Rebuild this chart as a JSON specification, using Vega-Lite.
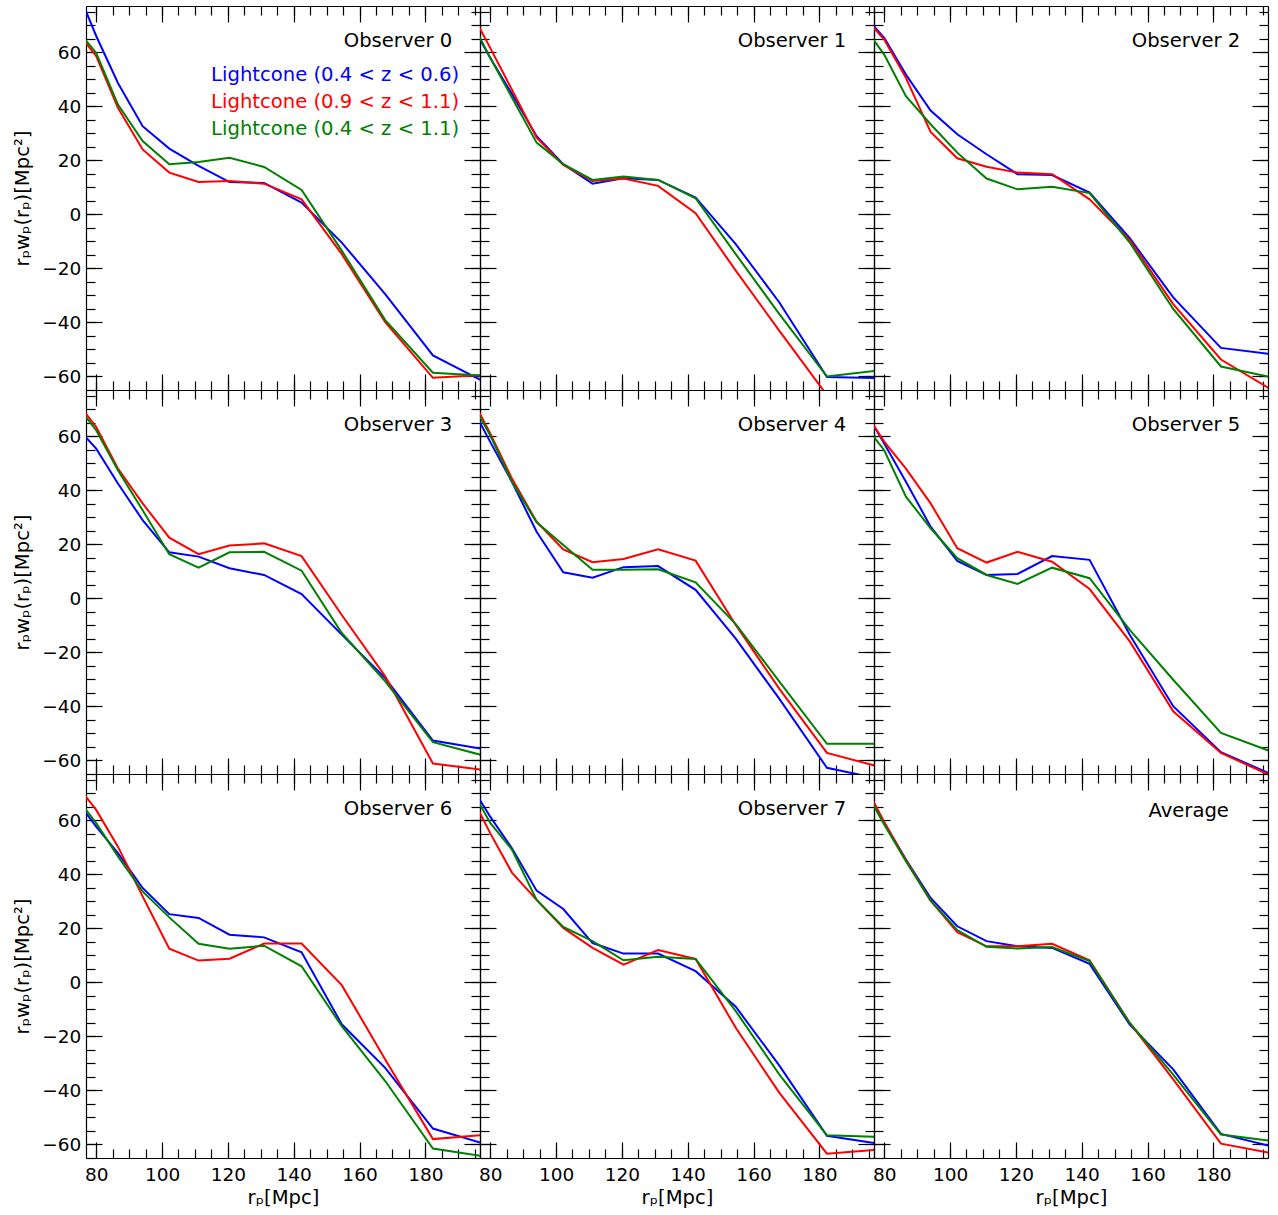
{
"$schema":"https://vega.github.io/schema/vega-lite/v6.json",
"padding":{"left":12,"top":5,"right":5,"bottom":5},
"background":"white",
"config":{"view":{"stroke":null},"axis":{"grid":false,"tickColor":"black","tickWidth":1.2,"domainColor":"black","domainWidth":1.2,"labelFont":"DejaVu Sans","labelFontSize":18.5,"labelColor":"black","titleFont":"DejaVu Sans","titleFontSize":19.6,"titleFontWeight":"normal","titleColor":"black","labelOverlap":false,"labelFlush":false,"labelBound":false}},
"data":{"values":[
{"p":0,"r":73.7,"b":84.5,"rd":68.4,"g":69.0},
{"p":0,"r":80,"b":66.0,"rd":58.5,"g":59.7},
{"p":0,"r":86.6,"b":48.6,"rd":39.4,"g":40.6},
{"p":0,"r":94.1,"b":32.6,"rd":24.0,"g":27.1},
{"p":0,"r":102.2,"b":24.3,"rd":15.4,"g":18.5},
{"p":0,"r":111.1,"b":17.9,"rd":11.9,"g":19.3},
{"p":0,"r":120.5,"b":11.9,"rd":12.3,"g":20.9},
{"p":0,"r":131.0,"b":11.6,"rd":11.3,"g":17.5},
{"p":0,"r":142.4,"b":4.3,"rd":5.5,"g":9.0},
{"p":0,"r":154.6,"b":-10.5,"rd":-14.8,"g":-13.5},
{"p":0,"r":167.8,"b":-29.6,"rd":-40.0,"g":-39.2},
{"p":0,"r":182.3,"b":-52.3,"rd":-60.6,"g":-58.7},
{"p":0,"r":197.8,"b":-62.0,"rd":-59.6,"g":-59.8},
{"p":1,"r":73.7,"b":71.7,"rd":76.0,"g":72.9},
{"p":1,"r":80,"b":57.9,"rd":61.6,"g":57.9},
{"p":1,"r":86.6,"b":44.5,"rd":46.1,"g":43.2},
{"p":1,"r":94.1,"b":28.9,"rd":28.3,"g":26.5},
{"p":1,"r":102.2,"b":18.5,"rd":18.2,"g":18.5},
{"p":1,"r":111.1,"b":11.3,"rd":12.3,"g":12.7},
{"p":1,"r":120.5,"b":13.3,"rd":13.2,"g":14.0},
{"p":1,"r":131.0,"b":12.7,"rd":10.5,"g":12.7},
{"p":1,"r":142.4,"b":6.2,"rd":0.4,"g":5.9},
{"p":1,"r":154.6,"b":-11.1,"rd":-20.9,"g":-14.8},
{"p":1,"r":167.8,"b":-32.6,"rd":-43.1,"g":-36.9},
{"p":1,"r":182.3,"b":-60.3,"rd":-67.0,"g":-60.1},
{"p":1,"r":197.8,"b":-60.7,"rd":-70.0,"g":-57.9},
{"p":2,"r":73.7,"b":74.0,"rd":73.4,"g":69.7},
{"p":2,"r":80,"b":65.3,"rd":64.7,"g":59.1},
{"p":2,"r":86.6,"b":51.7,"rd":50.5,"g":43.7},
{"p":2,"r":94.1,"b":38.4,"rd":30.5,"g":33.3},
{"p":2,"r":102.2,"b":29.6,"rd":20.7,"g":22.8},
{"p":2,"r":111.1,"b":22.2,"rd":17.6,"g":13.2},
{"p":2,"r":120.5,"b":14.8,"rd":15.4,"g":9.2},
{"p":2,"r":131.0,"b":14.5,"rd":14.8,"g":10.2},
{"p":2,"r":142.4,"b":8.0,"rd":5.5,"g":7.8},
{"p":2,"r":154.6,"b":-8.9,"rd":-9.6,"g":-10.5},
{"p":2,"r":167.8,"b":-30.8,"rd":-33.3,"g":-35.1},
{"p":2,"r":182.3,"b":-49.5,"rd":-53.8,"g":-56.4},
{"p":2,"r":197.8,"b":-51.9,"rd":-65.1,"g":-60.4},
{"p":3,"r":73.7,"b":63.7,"rd":73.3,"g":72.1},
{"p":3,"r":80,"b":55.4,"rd":63.4,"g":62.2},
{"p":3,"r":86.6,"b":42.5,"rd":48.0,"g":47.4},
{"p":3,"r":94.1,"b":28.9,"rd":35.1,"g":32.6},
{"p":3,"r":102.2,"b":17.0,"rd":22.4,"g":16.3},
{"p":3,"r":111.1,"b":15.4,"rd":16.3,"g":11.3},
{"p":3,"r":120.5,"b":11.1,"rd":19.5,"g":17.0},
{"p":3,"r":131.0,"b":8.6,"rd":20.3,"g":17.2},
{"p":3,"r":142.4,"b":1.5,"rd":15.6,"g":10.2},
{"p":3,"r":154.6,"b":-13.5,"rd":-6.2,"g":-12.9},
{"p":3,"r":167.8,"b":-29.6,"rd":-28.9,"g":-30.8},
{"p":3,"r":182.3,"b":-52.7,"rd":-61.2,"g":-53.3},
{"p":3,"r":197.8,"b":-55.9,"rd":-63.6,"g":-58.3},
{"p":4,"r":73.7,"b":72.3,"rd":75.8,"g":74.1},
{"p":4,"r":80,"b":57.9,"rd":61.0,"g":60.3},
{"p":4,"r":86.6,"b":43.1,"rd":44.3,"g":43.1},
{"p":4,"r":94.1,"b":24.6,"rd":28.3,"g":28.1},
{"p":4,"r":102.2,"b":9.6,"rd":18.1,"g":19.7},
{"p":4,"r":111.1,"b":7.6,"rd":13.3,"g":10.5},
{"p":4,"r":120.5,"b":11.5,"rd":14.5,"g":10.5},
{"p":4,"r":131.0,"b":11.9,"rd":18.1,"g":10.7},
{"p":4,"r":142.4,"b":3.1,"rd":13.9,"g":5.9},
{"p":4,"r":154.6,"b":-15.0,"rd":-9.9,"g":-9.6},
{"p":4,"r":167.8,"b":-37.2,"rd":-33.5,"g":-30.8},
{"p":4,"r":182.3,"b":-62.8,"rd":-57.3,"g":-53.9},
{"p":4,"r":197.8,"b":-66.8,"rd":-62.3,"g":-53.9},
{"p":5,"r":73.7,"b":70.5,"rd":69.7,"g":64.7},
{"p":5,"r":80,"b":57.3,"rd":58.0,"g":54.8},
{"p":5,"r":86.6,"b":43.1,"rd":48.0,"g":37.6},
{"p":5,"r":94.1,"b":26.5,"rd":35.1,"g":25.9},
{"p":5,"r":102.2,"b":13.8,"rd":18.5,"g":14.8},
{"p":5,"r":111.1,"b":8.6,"rd":13.2,"g":8.6},
{"p":5,"r":120.5,"b":9.0,"rd":17.2,"g":5.3},
{"p":5,"r":131.0,"b":15.6,"rd":13.5,"g":11.3},
{"p":5,"r":142.4,"b":14.2,"rd":3.4,"g":7.4},
{"p":5,"r":154.6,"b":-13.5,"rd":-16.0,"g":-11.7},
{"p":5,"r":167.8,"b":-40.0,"rd":-41.9,"g":-30.2},
{"p":5,"r":182.3,"b":-57.0,"rd":-57.3,"g":-49.9},
{"p":5,"r":197.8,"b":-65.3,"rd":-65.9,"g":-56.9},
{"p":6,"r":73.7,"b":67.8,"rd":73.7,"g":68.8},
{"p":6,"r":80,"b":57.6,"rd":63.8,"g":58.9},
{"p":6,"r":86.6,"b":47.8,"rd":50.2,"g":46.6},
{"p":6,"r":94.1,"b":34.9,"rd":31.8,"g":33.6},
{"p":6,"r":102.2,"b":25.2,"rd":12.4,"g":24.0},
{"p":6,"r":111.1,"b":23.8,"rd":8.0,"g":14.2},
{"p":6,"r":120.5,"b":17.6,"rd":8.7,"g":12.4},
{"p":6,"r":131.0,"b":16.6,"rd":14.3,"g":13.5},
{"p":6,"r":142.4,"b":11.1,"rd":14.3,"g":5.9},
{"p":6,"r":154.6,"b":-15.6,"rd":-1.1,"g":-16.3},
{"p":6,"r":167.8,"b":-31.7,"rd":-28.6,"g":-36.6},
{"p":6,"r":182.3,"b":-54.2,"rd":-58.1,"g":-61.6},
{"p":6,"r":197.8,"b":-59.8,"rd":-56.6,"g":-64.5},
{"p":7,"r":73.7,"b":73.7,"rd":70.2,"g":72.8},
{"p":7,"r":80,"b":61.3,"rd":55.2,"g":59.0},
{"p":7,"r":86.6,"b":49.6,"rd":40.6,"g":49.1},
{"p":7,"r":94.1,"b":33.9,"rd":30.5,"g":30.5},
{"p":7,"r":102.2,"b":27.1,"rd":20.1,"g":20.5},
{"p":7,"r":111.1,"b":14.5,"rd":12.7,"g":15.2},
{"p":7,"r":120.5,"b":10.6,"rd":6.5,"g":8.1},
{"p":7,"r":131.0,"b":10.6,"rd":11.9,"g":9.4},
{"p":7,"r":142.4,"b":4.1,"rd":8.6,"g":8.6},
{"p":7,"r":154.6,"b":-9.1,"rd":-16.9,"g":-10.7},
{"p":7,"r":167.8,"b":-30.8,"rd":-40.9,"g":-34.1},
{"p":7,"r":182.3,"b":-56.9,"rd":-63.5,"g":-56.7},
{"p":7,"r":197.8,"b":-59.8,"rd":-62.0,"g":-57.3},
{"p":8,"r":73.7,"b":74.0,"rd":73.7,"g":72.2},
{"p":8,"r":80,"b":59.0,"rd":59.3,"g":58.4},
{"p":8,"r":86.6,"b":45.4,"rd":45.2,"g":44.8},
{"p":8,"r":94.1,"b":31.2,"rd":30.2,"g":30.2},
{"p":8,"r":102.2,"b":20.7,"rd":18.5,"g":19.3},
{"p":8,"r":111.1,"b":15.2,"rd":13.3,"g":13.1},
{"p":8,"r":120.5,"b":13.3,"rd":13.3,"g":12.5},
{"p":8,"r":131.0,"b":12.7,"rd":14.2,"g":13.0},
{"p":8,"r":142.4,"b":6.8,"rd":8.1,"g":7.8},
{"p":8,"r":154.6,"b":-15.7,"rd":-15.1,"g":-15.1},
{"p":8,"r":167.8,"b":-32.3,"rd":-36.0,"g":-34.2},
{"p":8,"r":182.3,"b":-56.2,"rd":-59.8,"g":-56.4},
{"p":8,"r":197.8,"b":-60.8,"rd":-63.3,"g":-58.8}
]},
"columns":3,
"spacing":0,
"bounds":"flush",
"concat":[
{"width":394,"height":384,"resolve":{"axis":{"x":"independent","y":"independent"}},"layer":[
 {"transform":[{"filter":"datum.p == 0"},{"fold":["b","rd","g"],"as":["k","v"]}],"mark":{"type":"line","clip":true,"strokeWidth":2},
  "encoding":{"x":{"field":"r","type":"quantitative","scale":{"domain":[76.9,196.6],"nice":false,"zero":false},"axis":{"orient":"bottom","values":[80,100,120,140,160,180],"tickSize":-16,"labels":false,"title":null}},
   "y":{"field":"v","type":"quantitative","scale":{"domain":[-65.1,77.1],"nice":false,"zero":false},"axis":{"orient":"left","values":[-60,-40,-20,0,20,40,60],"tickSize":-16,"labelPadding":21.3,"labelOffset":0,"title":"rₚwₚ(rₚ)[Mpc²]","titlePadding":9}},
   "color":{"field":"k","type":"nominal","scale":{"domain":["b","rd","g"],"range":["#0000ff","#ff0000","#008000"]},"legend":null}}},
 {"data":{"values":[{"t":"Observer 0"}]},"mark":{"type":"text","align":"center","baseline":"middle","fontSize":19.6,"font":"DejaVu Sans","color":"black"},
  "encoding":{"text":{"field":"t"},"x":{"datum":171.7,"type":"quantitative","scale":{"domain":[76.9,196.6],"nice":false,"zero":false},"axis":{"orient":"bottom","values":[80,85,90,95,100,105,110,115,120,125,130,135,140,145,150,155,160,165,170,175,180,185,190,195],"tickSize":-9,"labels":false,"domain":false,"title":null}},
   "y":{"datum":64,"type":"quantitative","scale":{"domain":[-65.1,77.1],"nice":false,"zero":false},"axis":{"orient":"left","values":[-65,-60,-55,-50,-45,-40,-35,-30,-25,-20,-15,-10,-5,0,5,10,15,20,25,30,35,40,45,50,55,60,65,70,75],"tickSize":-9,"labels":false,"domain":false,"title":null}}}},
 {"data":{"values":[{"t":""}]},"mark":{"type":"text"},
  "encoding":{"text":{"field":"t"},"x":{"datum":150,"type":"quantitative","scale":{"domain":[76.9,196.6],"nice":false,"zero":false},"axis":{"orient":"top","values":[80,100,120,140,160,180],"tickSize":-16,"labels":false,"title":null}},
   "y":{"datum":0,"type":"quantitative","scale":{"domain":[-65.1,77.1],"nice":false,"zero":false},"axis":{"orient":"right","values":[-60,-40,-20,0,20,40,60],"tickSize":-16,"labels":false,"title":null}}}},
 {"data":{"values":[{"t":""}]},"mark":{"type":"text"},
  "encoding":{"text":{"field":"t"},"x":{"datum":150,"type":"quantitative","scale":{"domain":[76.9,196.6],"nice":false,"zero":false},"axis":{"orient":"top","values":[80,85,90,95,100,105,110,115,120,125,130,135,140,145,150,155,160,165,170,175,180,185,190,195],"tickSize":-9,"labels":false,"domain":false,"title":null}},
   "y":{"datum":0,"type":"quantitative","scale":{"domain":[-65.1,77.1],"nice":false,"zero":false},"axis":{"orient":"right","values":[-65,-60,-55,-50,-45,-40,-35,-30,-25,-20,-15,-10,-5,0,5,10,15,20,25,30,35,40,45,50,55,60,65,70,75],"tickSize":-9,"labels":false,"domain":false,"title":null}}}},
 {"data":{"values":[{"t":"Lightcone (0.4 < z < 0.6)"}]},"mark":{"type":"text","align":"left","baseline":"middle","fontSize":19.6,"font":"DejaVu Sans","color":"#0000ff"},
  "encoding":{"text":{"field":"t"},"x":{"datum":114.9,"type":"quantitative","scale":{"domain":[76.9,196.6],"nice":false,"zero":false},"axis":null},"y":{"datum":51.5,"type":"quantitative","scale":{"domain":[-65.1,77.1],"nice":false,"zero":false},"axis":null}}},
 {"data":{"values":[{"t":"Lightcone (0.9 < z < 1.1)"}]},"mark":{"type":"text","align":"left","baseline":"middle","fontSize":19.6,"font":"DejaVu Sans","color":"#ff0000"},
  "encoding":{"text":{"field":"t"},"x":{"datum":114.9,"type":"quantitative","scale":{"domain":[76.9,196.6],"nice":false,"zero":false},"axis":null},"y":{"datum":41.5,"type":"quantitative","scale":{"domain":[-65.1,77.1],"nice":false,"zero":false},"axis":null}}},
 {"data":{"values":[{"t":"Lightcone (0.4 < z < 1.1)"}]},"mark":{"type":"text","align":"left","baseline":"middle","fontSize":19.6,"font":"DejaVu Sans","color":"#008000"},
  "encoding":{"text":{"field":"t"},"x":{"datum":114.9,"type":"quantitative","scale":{"domain":[76.9,196.6],"nice":false,"zero":false},"axis":null},"y":{"datum":31.7,"type":"quantitative","scale":{"domain":[-65.1,77.1],"nice":false,"zero":false},"axis":null}}}
]},
{"width":394,"height":384,"resolve":{"axis":{"x":"independent","y":"independent"}},"layer":[
 {"transform":[{"filter":"datum.p == 1"},{"fold":["b","rd","g"],"as":["k","v"]}],"mark":{"type":"line","clip":true,"strokeWidth":2},
  "encoding":{"x":{"field":"r","type":"quantitative","scale":{"domain":[76.9,196.6],"nice":false,"zero":false},"axis":{"orient":"bottom","values":[80,100,120,140,160,180],"tickSize":-16,"labels":false,"title":null}},
   "y":{"field":"v","type":"quantitative","scale":{"domain":[-65.1,77.1],"nice":false,"zero":false},"axis":{"orient":"left","values":[-60,-40,-20,0,20,40,60],"tickSize":-16,"labels":false,"title":null}},
   "color":{"field":"k","type":"nominal","scale":{"domain":["b","rd","g"],"range":["#0000ff","#ff0000","#008000"]},"legend":null}}},
 {"data":{"values":[{"t":"Observer 1"}]},"mark":{"type":"text","align":"center","baseline":"middle","fontSize":19.6,"font":"DejaVu Sans","color":"black"},
  "encoding":{"text":{"field":"t"},"x":{"datum":171.7,"type":"quantitative","scale":{"domain":[76.9,196.6],"nice":false,"zero":false},"axis":{"orient":"bottom","values":[80,85,90,95,100,105,110,115,120,125,130,135,140,145,150,155,160,165,170,175,180,185,190,195],"tickSize":-9,"labels":false,"domain":false,"title":null}},
   "y":{"datum":64,"type":"quantitative","scale":{"domain":[-65.1,77.1],"nice":false,"zero":false},"axis":{"orient":"left","values":[-65,-60,-55,-50,-45,-40,-35,-30,-25,-20,-15,-10,-5,0,5,10,15,20,25,30,35,40,45,50,55,60,65,70,75],"tickSize":-9,"labels":false,"domain":false,"title":null}}}},
 {"data":{"values":[{"t":""}]},"mark":{"type":"text"},
  "encoding":{"text":{"field":"t"},"x":{"datum":150,"type":"quantitative","scale":{"domain":[76.9,196.6],"nice":false,"zero":false},"axis":{"orient":"top","values":[80,100,120,140,160,180],"tickSize":-16,"labels":false,"title":null}},
   "y":{"datum":0,"type":"quantitative","scale":{"domain":[-65.1,77.1],"nice":false,"zero":false},"axis":{"orient":"right","values":[-60,-40,-20,0,20,40,60],"tickSize":-16,"labels":false,"title":null}}}},
 {"data":{"values":[{"t":""}]},"mark":{"type":"text"},
  "encoding":{"text":{"field":"t"},"x":{"datum":150,"type":"quantitative","scale":{"domain":[76.9,196.6],"nice":false,"zero":false},"axis":{"orient":"top","values":[80,85,90,95,100,105,110,115,120,125,130,135,140,145,150,155,160,165,170,175,180,185,190,195],"tickSize":-9,"labels":false,"domain":false,"title":null}},
   "y":{"datum":0,"type":"quantitative","scale":{"domain":[-65.1,77.1],"nice":false,"zero":false},"axis":{"orient":"right","values":[-65,-60,-55,-50,-45,-40,-35,-30,-25,-20,-15,-10,-5,0,5,10,15,20,25,30,35,40,45,50,55,60,65,70,75],"tickSize":-9,"labels":false,"domain":false,"title":null}}}}
]},
{"width":394,"height":384,"resolve":{"axis":{"x":"independent","y":"independent"}},"layer":[
 {"transform":[{"filter":"datum.p == 2"},{"fold":["b","rd","g"],"as":["k","v"]}],"mark":{"type":"line","clip":true,"strokeWidth":2},
  "encoding":{"x":{"field":"r","type":"quantitative","scale":{"domain":[76.9,196.6],"nice":false,"zero":false},"axis":{"orient":"bottom","values":[80,100,120,140,160,180],"tickSize":-16,"labels":false,"title":null}},
   "y":{"field":"v","type":"quantitative","scale":{"domain":[-65.1,77.1],"nice":false,"zero":false},"axis":{"orient":"left","values":[-60,-40,-20,0,20,40,60],"tickSize":-16,"labels":false,"title":null}},
   "color":{"field":"k","type":"nominal","scale":{"domain":["b","rd","g"],"range":["#0000ff","#ff0000","#008000"]},"legend":null}}},
 {"data":{"values":[{"t":"Observer 2"}]},"mark":{"type":"text","align":"center","baseline":"middle","fontSize":19.6,"font":"DejaVu Sans","color":"black"},
  "encoding":{"text":{"field":"t"},"x":{"datum":171.7,"type":"quantitative","scale":{"domain":[76.9,196.6],"nice":false,"zero":false},"axis":{"orient":"bottom","values":[80,85,90,95,100,105,110,115,120,125,130,135,140,145,150,155,160,165,170,175,180,185,190,195],"tickSize":-9,"labels":false,"domain":false,"title":null}},
   "y":{"datum":64,"type":"quantitative","scale":{"domain":[-65.1,77.1],"nice":false,"zero":false},"axis":{"orient":"left","values":[-65,-60,-55,-50,-45,-40,-35,-30,-25,-20,-15,-10,-5,0,5,10,15,20,25,30,35,40,45,50,55,60,65,70,75],"tickSize":-9,"labels":false,"domain":false,"title":null}}}},
 {"data":{"values":[{"t":""}]},"mark":{"type":"text"},
  "encoding":{"text":{"field":"t"},"x":{"datum":150,"type":"quantitative","scale":{"domain":[76.9,196.6],"nice":false,"zero":false},"axis":{"orient":"top","values":[80,100,120,140,160,180],"tickSize":-16,"labels":false,"title":null}},
   "y":{"datum":0,"type":"quantitative","scale":{"domain":[-65.1,77.1],"nice":false,"zero":false},"axis":{"orient":"right","values":[-60,-40,-20,0,20,40,60],"tickSize":-16,"labels":false,"title":null}}}},
 {"data":{"values":[{"t":""}]},"mark":{"type":"text"},
  "encoding":{"text":{"field":"t"},"x":{"datum":150,"type":"quantitative","scale":{"domain":[76.9,196.6],"nice":false,"zero":false},"axis":{"orient":"top","values":[80,85,90,95,100,105,110,115,120,125,130,135,140,145,150,155,160,165,170,175,180,185,190,195],"tickSize":-9,"labels":false,"domain":false,"title":null}},
   "y":{"datum":0,"type":"quantitative","scale":{"domain":[-65.1,77.1],"nice":false,"zero":false},"axis":{"orient":"right","values":[-65,-60,-55,-50,-45,-40,-35,-30,-25,-20,-15,-10,-5,0,5,10,15,20,25,30,35,40,45,50,55,60,65,70,75],"tickSize":-9,"labels":false,"domain":false,"title":null}}}}
]},
{"width":394,"height":384,"resolve":{"axis":{"x":"independent","y":"independent"}},"layer":[
 {"transform":[{"filter":"datum.p == 3"},{"fold":["b","rd","g"],"as":["k","v"]}],"mark":{"type":"line","clip":true,"strokeWidth":2},
  "encoding":{"x":{"field":"r","type":"quantitative","scale":{"domain":[76.9,196.6],"nice":false,"zero":false},"axis":{"orient":"bottom","values":[80,100,120,140,160,180],"tickSize":-16,"labels":false,"title":null}},
   "y":{"field":"v","type":"quantitative","scale":{"domain":[-65.1,77.1],"nice":false,"zero":false},"axis":{"orient":"left","values":[-60,-40,-20,0,20,40,60],"tickSize":-16,"labelPadding":21.3,"labelOffset":0,"title":"rₚwₚ(rₚ)[Mpc²]","titlePadding":9}},
   "color":{"field":"k","type":"nominal","scale":{"domain":["b","rd","g"],"range":["#0000ff","#ff0000","#008000"]},"legend":null}}},
 {"data":{"values":[{"t":"Observer 3"}]},"mark":{"type":"text","align":"center","baseline":"middle","fontSize":19.6,"font":"DejaVu Sans","color":"black"},
  "encoding":{"text":{"field":"t"},"x":{"datum":171.7,"type":"quantitative","scale":{"domain":[76.9,196.6],"nice":false,"zero":false},"axis":{"orient":"bottom","values":[80,85,90,95,100,105,110,115,120,125,130,135,140,145,150,155,160,165,170,175,180,185,190,195],"tickSize":-9,"labels":false,"domain":false,"title":null}},
   "y":{"datum":64,"type":"quantitative","scale":{"domain":[-65.1,77.1],"nice":false,"zero":false},"axis":{"orient":"left","values":[-65,-60,-55,-50,-45,-40,-35,-30,-25,-20,-15,-10,-5,0,5,10,15,20,25,30,35,40,45,50,55,60,65,70,75],"tickSize":-9,"labels":false,"domain":false,"title":null}}}},
 {"data":{"values":[{"t":""}]},"mark":{"type":"text"},
  "encoding":{"text":{"field":"t"},"x":{"datum":150,"type":"quantitative","scale":{"domain":[76.9,196.6],"nice":false,"zero":false},"axis":{"orient":"top","values":[80,100,120,140,160,180],"tickSize":-16,"labels":false,"title":null}},
   "y":{"datum":0,"type":"quantitative","scale":{"domain":[-65.1,77.1],"nice":false,"zero":false},"axis":{"orient":"right","values":[-60,-40,-20,0,20,40,60],"tickSize":-16,"labels":false,"title":null}}}},
 {"data":{"values":[{"t":""}]},"mark":{"type":"text"},
  "encoding":{"text":{"field":"t"},"x":{"datum":150,"type":"quantitative","scale":{"domain":[76.9,196.6],"nice":false,"zero":false},"axis":{"orient":"top","values":[80,85,90,95,100,105,110,115,120,125,130,135,140,145,150,155,160,165,170,175,180,185,190,195],"tickSize":-9,"labels":false,"domain":false,"title":null}},
   "y":{"datum":0,"type":"quantitative","scale":{"domain":[-65.1,77.1],"nice":false,"zero":false},"axis":{"orient":"right","values":[-65,-60,-55,-50,-45,-40,-35,-30,-25,-20,-15,-10,-5,0,5,10,15,20,25,30,35,40,45,50,55,60,65,70,75],"tickSize":-9,"labels":false,"domain":false,"title":null}}}}
]},
{"width":394,"height":384,"resolve":{"axis":{"x":"independent","y":"independent"}},"layer":[
 {"transform":[{"filter":"datum.p == 4"},{"fold":["b","rd","g"],"as":["k","v"]}],"mark":{"type":"line","clip":true,"strokeWidth":2},
  "encoding":{"x":{"field":"r","type":"quantitative","scale":{"domain":[76.9,196.6],"nice":false,"zero":false},"axis":{"orient":"bottom","values":[80,100,120,140,160,180],"tickSize":-16,"labels":false,"title":null}},
   "y":{"field":"v","type":"quantitative","scale":{"domain":[-65.1,77.1],"nice":false,"zero":false},"axis":{"orient":"left","values":[-60,-40,-20,0,20,40,60],"tickSize":-16,"labels":false,"title":null}},
   "color":{"field":"k","type":"nominal","scale":{"domain":["b","rd","g"],"range":["#0000ff","#ff0000","#008000"]},"legend":null}}},
 {"data":{"values":[{"t":"Observer 4"}]},"mark":{"type":"text","align":"center","baseline":"middle","fontSize":19.6,"font":"DejaVu Sans","color":"black"},
  "encoding":{"text":{"field":"t"},"x":{"datum":171.7,"type":"quantitative","scale":{"domain":[76.9,196.6],"nice":false,"zero":false},"axis":{"orient":"bottom","values":[80,85,90,95,100,105,110,115,120,125,130,135,140,145,150,155,160,165,170,175,180,185,190,195],"tickSize":-9,"labels":false,"domain":false,"title":null}},
   "y":{"datum":64,"type":"quantitative","scale":{"domain":[-65.1,77.1],"nice":false,"zero":false},"axis":{"orient":"left","values":[-65,-60,-55,-50,-45,-40,-35,-30,-25,-20,-15,-10,-5,0,5,10,15,20,25,30,35,40,45,50,55,60,65,70,75],"tickSize":-9,"labels":false,"domain":false,"title":null}}}},
 {"data":{"values":[{"t":""}]},"mark":{"type":"text"},
  "encoding":{"text":{"field":"t"},"x":{"datum":150,"type":"quantitative","scale":{"domain":[76.9,196.6],"nice":false,"zero":false},"axis":{"orient":"top","values":[80,100,120,140,160,180],"tickSize":-16,"labels":false,"title":null}},
   "y":{"datum":0,"type":"quantitative","scale":{"domain":[-65.1,77.1],"nice":false,"zero":false},"axis":{"orient":"right","values":[-60,-40,-20,0,20,40,60],"tickSize":-16,"labels":false,"title":null}}}},
 {"data":{"values":[{"t":""}]},"mark":{"type":"text"},
  "encoding":{"text":{"field":"t"},"x":{"datum":150,"type":"quantitative","scale":{"domain":[76.9,196.6],"nice":false,"zero":false},"axis":{"orient":"top","values":[80,85,90,95,100,105,110,115,120,125,130,135,140,145,150,155,160,165,170,175,180,185,190,195],"tickSize":-9,"labels":false,"domain":false,"title":null}},
   "y":{"datum":0,"type":"quantitative","scale":{"domain":[-65.1,77.1],"nice":false,"zero":false},"axis":{"orient":"right","values":[-65,-60,-55,-50,-45,-40,-35,-30,-25,-20,-15,-10,-5,0,5,10,15,20,25,30,35,40,45,50,55,60,65,70,75],"tickSize":-9,"labels":false,"domain":false,"title":null}}}}
]},
{"width":394,"height":384,"resolve":{"axis":{"x":"independent","y":"independent"}},"layer":[
 {"transform":[{"filter":"datum.p == 5"},{"fold":["b","rd","g"],"as":["k","v"]}],"mark":{"type":"line","clip":true,"strokeWidth":2},
  "encoding":{"x":{"field":"r","type":"quantitative","scale":{"domain":[76.9,196.6],"nice":false,"zero":false},"axis":{"orient":"bottom","values":[80,100,120,140,160,180],"tickSize":-16,"labels":false,"title":null}},
   "y":{"field":"v","type":"quantitative","scale":{"domain":[-65.1,77.1],"nice":false,"zero":false},"axis":{"orient":"left","values":[-60,-40,-20,0,20,40,60],"tickSize":-16,"labels":false,"title":null}},
   "color":{"field":"k","type":"nominal","scale":{"domain":["b","rd","g"],"range":["#0000ff","#ff0000","#008000"]},"legend":null}}},
 {"data":{"values":[{"t":"Observer 5"}]},"mark":{"type":"text","align":"center","baseline":"middle","fontSize":19.6,"font":"DejaVu Sans","color":"black"},
  "encoding":{"text":{"field":"t"},"x":{"datum":171.7,"type":"quantitative","scale":{"domain":[76.9,196.6],"nice":false,"zero":false},"axis":{"orient":"bottom","values":[80,85,90,95,100,105,110,115,120,125,130,135,140,145,150,155,160,165,170,175,180,185,190,195],"tickSize":-9,"labels":false,"domain":false,"title":null}},
   "y":{"datum":64,"type":"quantitative","scale":{"domain":[-65.1,77.1],"nice":false,"zero":false},"axis":{"orient":"left","values":[-65,-60,-55,-50,-45,-40,-35,-30,-25,-20,-15,-10,-5,0,5,10,15,20,25,30,35,40,45,50,55,60,65,70,75],"tickSize":-9,"labels":false,"domain":false,"title":null}}}},
 {"data":{"values":[{"t":""}]},"mark":{"type":"text"},
  "encoding":{"text":{"field":"t"},"x":{"datum":150,"type":"quantitative","scale":{"domain":[76.9,196.6],"nice":false,"zero":false},"axis":{"orient":"top","values":[80,100,120,140,160,180],"tickSize":-16,"labels":false,"title":null}},
   "y":{"datum":0,"type":"quantitative","scale":{"domain":[-65.1,77.1],"nice":false,"zero":false},"axis":{"orient":"right","values":[-60,-40,-20,0,20,40,60],"tickSize":-16,"labels":false,"title":null}}}},
 {"data":{"values":[{"t":""}]},"mark":{"type":"text"},
  "encoding":{"text":{"field":"t"},"x":{"datum":150,"type":"quantitative","scale":{"domain":[76.9,196.6],"nice":false,"zero":false},"axis":{"orient":"top","values":[80,85,90,95,100,105,110,115,120,125,130,135,140,145,150,155,160,165,170,175,180,185,190,195],"tickSize":-9,"labels":false,"domain":false,"title":null}},
   "y":{"datum":0,"type":"quantitative","scale":{"domain":[-65.1,77.1],"nice":false,"zero":false},"axis":{"orient":"right","values":[-65,-60,-55,-50,-45,-40,-35,-30,-25,-20,-15,-10,-5,0,5,10,15,20,25,30,35,40,45,50,55,60,65,70,75],"tickSize":-9,"labels":false,"domain":false,"title":null}}}}
]},
{"width":394,"height":384,"resolve":{"axis":{"x":"independent","y":"independent"}},"layer":[
 {"transform":[{"filter":"datum.p == 6"},{"fold":["b","rd","g"],"as":["k","v"]}],"mark":{"type":"line","clip":true,"strokeWidth":2},
  "encoding":{"x":{"field":"r","type":"quantitative","scale":{"domain":[76.9,196.6],"nice":false,"zero":false},"axis":{"orient":"bottom","values":[80,100,120,140,160,180],"tickSize":-16,"labelPadding":23.3,"title":"rₚ[Mpc]","titlePadding":5}},
   "y":{"field":"v","type":"quantitative","scale":{"domain":[-65.1,77.1],"nice":false,"zero":false},"axis":{"orient":"left","values":[-60,-40,-20,0,20,40,60],"tickSize":-16,"labelPadding":21.3,"labelOffset":0,"title":"rₚwₚ(rₚ)[Mpc²]","titlePadding":9}},
   "color":{"field":"k","type":"nominal","scale":{"domain":["b","rd","g"],"range":["#0000ff","#ff0000","#008000"]},"legend":null}}},
 {"data":{"values":[{"t":"Observer 6"}]},"mark":{"type":"text","align":"center","baseline":"middle","fontSize":19.6,"font":"DejaVu Sans","color":"black"},
  "encoding":{"text":{"field":"t"},"x":{"datum":171.7,"type":"quantitative","scale":{"domain":[76.9,196.6],"nice":false,"zero":false},"axis":{"orient":"bottom","values":[80,85,90,95,100,105,110,115,120,125,130,135,140,145,150,155,160,165,170,175,180,185,190,195],"tickSize":-9,"labels":false,"domain":false,"title":null}},
   "y":{"datum":64,"type":"quantitative","scale":{"domain":[-65.1,77.1],"nice":false,"zero":false},"axis":{"orient":"left","values":[-65,-60,-55,-50,-45,-40,-35,-30,-25,-20,-15,-10,-5,0,5,10,15,20,25,30,35,40,45,50,55,60,65,70,75],"tickSize":-9,"labels":false,"domain":false,"title":null}}}},
 {"data":{"values":[{"t":""}]},"mark":{"type":"text"},
  "encoding":{"text":{"field":"t"},"x":{"datum":150,"type":"quantitative","scale":{"domain":[76.9,196.6],"nice":false,"zero":false},"axis":{"orient":"top","values":[80,100,120,140,160,180],"tickSize":-16,"labels":false,"title":null}},
   "y":{"datum":0,"type":"quantitative","scale":{"domain":[-65.1,77.1],"nice":false,"zero":false},"axis":{"orient":"right","values":[-60,-40,-20,0,20,40,60],"tickSize":-16,"labels":false,"title":null}}}},
 {"data":{"values":[{"t":""}]},"mark":{"type":"text"},
  "encoding":{"text":{"field":"t"},"x":{"datum":150,"type":"quantitative","scale":{"domain":[76.9,196.6],"nice":false,"zero":false},"axis":{"orient":"top","values":[80,85,90,95,100,105,110,115,120,125,130,135,140,145,150,155,160,165,170,175,180,185,190,195],"tickSize":-9,"labels":false,"domain":false,"title":null}},
   "y":{"datum":0,"type":"quantitative","scale":{"domain":[-65.1,77.1],"nice":false,"zero":false},"axis":{"orient":"right","values":[-65,-60,-55,-50,-45,-40,-35,-30,-25,-20,-15,-10,-5,0,5,10,15,20,25,30,35,40,45,50,55,60,65,70,75],"tickSize":-9,"labels":false,"domain":false,"title":null}}}}
]},
{"width":394,"height":384,"resolve":{"axis":{"x":"independent","y":"independent"}},"layer":[
 {"transform":[{"filter":"datum.p == 7"},{"fold":["b","rd","g"],"as":["k","v"]}],"mark":{"type":"line","clip":true,"strokeWidth":2},
  "encoding":{"x":{"field":"r","type":"quantitative","scale":{"domain":[76.9,196.6],"nice":false,"zero":false},"axis":{"orient":"bottom","values":[80,100,120,140,160,180],"tickSize":-16,"labelPadding":23.3,"title":"rₚ[Mpc]","titlePadding":5}},
   "y":{"field":"v","type":"quantitative","scale":{"domain":[-65.1,77.1],"nice":false,"zero":false},"axis":{"orient":"left","values":[-60,-40,-20,0,20,40,60],"tickSize":-16,"labels":false,"title":null}},
   "color":{"field":"k","type":"nominal","scale":{"domain":["b","rd","g"],"range":["#0000ff","#ff0000","#008000"]},"legend":null}}},
 {"data":{"values":[{"t":"Observer 7"}]},"mark":{"type":"text","align":"center","baseline":"middle","fontSize":19.6,"font":"DejaVu Sans","color":"black"},
  "encoding":{"text":{"field":"t"},"x":{"datum":171.7,"type":"quantitative","scale":{"domain":[76.9,196.6],"nice":false,"zero":false},"axis":{"orient":"bottom","values":[80,85,90,95,100,105,110,115,120,125,130,135,140,145,150,155,160,165,170,175,180,185,190,195],"tickSize":-9,"labels":false,"domain":false,"title":null}},
   "y":{"datum":64,"type":"quantitative","scale":{"domain":[-65.1,77.1],"nice":false,"zero":false},"axis":{"orient":"left","values":[-65,-60,-55,-50,-45,-40,-35,-30,-25,-20,-15,-10,-5,0,5,10,15,20,25,30,35,40,45,50,55,60,65,70,75],"tickSize":-9,"labels":false,"domain":false,"title":null}}}},
 {"data":{"values":[{"t":""}]},"mark":{"type":"text"},
  "encoding":{"text":{"field":"t"},"x":{"datum":150,"type":"quantitative","scale":{"domain":[76.9,196.6],"nice":false,"zero":false},"axis":{"orient":"top","values":[80,100,120,140,160,180],"tickSize":-16,"labels":false,"title":null}},
   "y":{"datum":0,"type":"quantitative","scale":{"domain":[-65.1,77.1],"nice":false,"zero":false},"axis":{"orient":"right","values":[-60,-40,-20,0,20,40,60],"tickSize":-16,"labels":false,"title":null}}}},
 {"data":{"values":[{"t":""}]},"mark":{"type":"text"},
  "encoding":{"text":{"field":"t"},"x":{"datum":150,"type":"quantitative","scale":{"domain":[76.9,196.6],"nice":false,"zero":false},"axis":{"orient":"top","values":[80,85,90,95,100,105,110,115,120,125,130,135,140,145,150,155,160,165,170,175,180,185,190,195],"tickSize":-9,"labels":false,"domain":false,"title":null}},
   "y":{"datum":0,"type":"quantitative","scale":{"domain":[-65.1,77.1],"nice":false,"zero":false},"axis":{"orient":"right","values":[-65,-60,-55,-50,-45,-40,-35,-30,-25,-20,-15,-10,-5,0,5,10,15,20,25,30,35,40,45,50,55,60,65,70,75],"tickSize":-9,"labels":false,"domain":false,"title":null}}}}
]},
{"width":394,"height":384,"resolve":{"axis":{"x":"independent","y":"independent"}},"layer":[
 {"transform":[{"filter":"datum.p == 8"},{"fold":["b","rd","g"],"as":["k","v"]}],"mark":{"type":"line","clip":true,"strokeWidth":2},
  "encoding":{"x":{"field":"r","type":"quantitative","scale":{"domain":[76.9,196.6],"nice":false,"zero":false},"axis":{"orient":"bottom","values":[80,100,120,140,160,180],"tickSize":-16,"labelPadding":23.3,"title":"rₚ[Mpc]","titlePadding":5}},
   "y":{"field":"v","type":"quantitative","scale":{"domain":[-65.1,77.1],"nice":false,"zero":false},"axis":{"orient":"left","values":[-60,-40,-20,0,20,40,60],"tickSize":-16,"labels":false,"title":null}},
   "color":{"field":"k","type":"nominal","scale":{"domain":["b","rd","g"],"range":["#0000ff","#ff0000","#008000"]},"legend":null}}},
 {"data":{"values":[{"t":"Average"}]},"mark":{"type":"text","align":"center","baseline":"middle","fontSize":19.6,"font":"DejaVu Sans","color":"black"},
  "encoding":{"text":{"field":"t"},"x":{"datum":172.5,"type":"quantitative","scale":{"domain":[76.9,196.6],"nice":false,"zero":false},"axis":{"orient":"bottom","values":[80,85,90,95,100,105,110,115,120,125,130,135,140,145,150,155,160,165,170,175,180,185,190,195],"tickSize":-9,"labels":false,"domain":false,"title":null}},
   "y":{"datum":63.5,"type":"quantitative","scale":{"domain":[-65.1,77.1],"nice":false,"zero":false},"axis":{"orient":"left","values":[-65,-60,-55,-50,-45,-40,-35,-30,-25,-20,-15,-10,-5,0,5,10,15,20,25,30,35,40,45,50,55,60,65,70,75],"tickSize":-9,"labels":false,"domain":false,"title":null}}}},
 {"data":{"values":[{"t":""}]},"mark":{"type":"text"},
  "encoding":{"text":{"field":"t"},"x":{"datum":150,"type":"quantitative","scale":{"domain":[76.9,196.6],"nice":false,"zero":false},"axis":{"orient":"top","values":[80,100,120,140,160,180],"tickSize":-16,"labels":false,"title":null}},
   "y":{"datum":0,"type":"quantitative","scale":{"domain":[-65.1,77.1],"nice":false,"zero":false},"axis":{"orient":"right","values":[-60,-40,-20,0,20,40,60],"tickSize":-16,"labels":false,"title":null}}}},
 {"data":{"values":[{"t":""}]},"mark":{"type":"text"},
  "encoding":{"text":{"field":"t"},"x":{"datum":150,"type":"quantitative","scale":{"domain":[76.9,196.6],"nice":false,"zero":false},"axis":{"orient":"top","values":[80,85,90,95,100,105,110,115,120,125,130,135,140,145,150,155,160,165,170,175,180,185,190,195],"tickSize":-9,"labels":false,"domain":false,"title":null}},
   "y":{"datum":0,"type":"quantitative","scale":{"domain":[-65.1,77.1],"nice":false,"zero":false},"axis":{"orient":"right","values":[-65,-60,-55,-50,-45,-40,-35,-30,-25,-20,-15,-10,-5,0,5,10,15,20,25,30,35,40,45,50,55,60,65,70,75],"tickSize":-9,"labels":false,"domain":false,"title":null}}}}
]}
]
}
